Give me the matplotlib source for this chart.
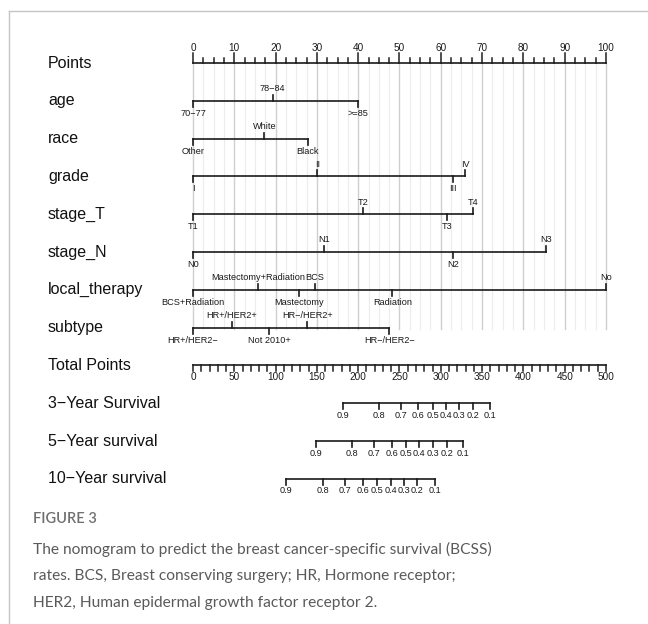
import matplotlib
matplotlib.use("Agg")
import matplotlib.pyplot as plt
from matplotlib.lines import Line2D

# ---- nomogram data (points scale 0-100) ----
points_ticks = [0, 10, 20, 30, 40, 50, 60, 70, 80, 90, 100]

age_levels = ["70\u221277", "78\u221284", ">=85"]
age_points = [0, 19.3, 40.0]

race_levels = ["Other", "White", "Black"]
race_points = [0, 17.3, 27.8]

grade_levels = ["I", "II", "III", "IV"]
grade_points = [0, 30.1, 63.0, 65.9]

stage_T_levels = ["T1", "T2", "T3", "T4"]
stage_T_points = [0, 41.2, 61.6, 67.7]

stage_N_levels = ["N0", "N1", "N2", "N3"]
stage_N_points = [0, 31.7, 63.0, 85.5]

therapy_levels = ["BCS+Radiation", "Mastectomy+Radiation", "Mastectomy",
                  "BCS", "Radiation", "No"]
therapy_points = [0, 15.8, 25.7, 29.5, 48.3, 100.0]

subtype_levels = ["HR+/HER2\u2212", "HR+/HER2+", "Not 2010+",
                  "HR\u2212/HER2+", "HR\u2212/HER2\u2212"]
subtype_points = [0, 9.4, 18.5, 27.7, 47.5]

total_ticks = [0, 50, 100, 150, 200, 250, 300, 350, 400, 450, 500]

surv_probs = ["0.9", "0.8", "0.7", "0.6", "0.5", "0.4", "0.3", "0.2", "0.1"]
surv3_total = [181, 225, 251.5, 272.5, 290, 306, 322, 339, 360]
surv5_total = [149, 192, 219, 240.5, 258, 274, 290, 307, 327]
surv10_total = [112.5, 157, 184, 205.5, 222.5, 239.5, 255.5, 271.5, 293]

variables = [
    ("age", age_levels, age_points),
    ("race", race_levels, race_points),
    ("grade", grade_levels, grade_points),
    ("stage_T", stage_T_levels, stage_T_points),
    ("stage_N", stage_N_levels, stage_N_points),
    ("local_therapy", therapy_levels, therapy_points),
    ("subtype", subtype_levels, subtype_points),
]
survivals = [
    ("3\u2212Year Survival", surv3_total),
    ("5\u2212Year survival", surv5_total),
    ("10\u2212Year survival", surv10_total),
]

# ---- figure setup: x in points, y in pixel rows ----
W, H = 648, 624
fig = plt.figure(figsize=(W / 100, H / 100), dpi=100)
ax = fig.add_axes([0, 0, 1, 1])
px0, px100 = 193, 606
scale = (px100 - px0) / 100.0
ax.set_xlim(-px0 / scale, (W - px0) / scale)
ax.set_ylim(H, 0)
ax.axis("off")

FONT = "Liberation Sans"
LC = "#1a1a1a"
LW = 1.2
row_fs = 11.5
tick_fs = 6.6

row_y = [63 + 37.8 * i for i in range(12)]
label_x = (48 - px0) / scale

# frame around the figure panel
ax.add_line(Line2D([(9 - px0) / scale] * 2, [11, H], color="#c4c4c4", lw=1.0))
ax.add_line(Line2D([(9 - px0) / scale, (W - px0) / scale], [11, 11],
                   color="#c4c4c4", lw=1.0))

# vertical reference grid
grid_bottom = row_y[7] + 1
for k in range(41):
    v = k * 2.5
    major = (k % 4 == 0)
    ax.plot([v, v], [row_y[0], grid_bottom],
            color="#cfcfcf" if major else "#ececec",
            lw=1.0 if major else 0.8, zorder=0)

def row_label(y, text):
    ax.text(label_x, y, text, fontsize=row_fs, family=FONT,
            ha="left", va="center", color="#111111")

# Points axis
y = row_y[0]
row_label(y, "Points")
ax.plot([0, 100], [y, y], color=LC, lw=LW)
for k in range(41):
    v = k * 2.5
    top = y - 10 if k % 4 == 0 else y - 5
    ax.plot([v, v], [y, top], color=LC, lw=LW * 0.9)
for v in points_ticks:
    ax.text(v, y - 15, str(v), fontsize=7.2, family=FONT,
            ha="center", va="center", color=LC)

# categorical variables: labels alternate below / above the line
for i, (name, levels, pts) in enumerate(variables):
    y = row_y[i + 1]
    row_label(y, name)
    ax.plot([min(pts), max(pts)], [y, y], color=LC, lw=LW)
    for j, (lab, p) in enumerate(zip(levels, pts)):
        up = (j % 2 == 1)
        end = y - 6 if up else y + 6
        ax.plot([p, p], [y, end], color=LC, lw=LW)
        ty = y - 12 if up else y + 12.5
        ax.text(p, ty, lab, fontsize=tick_fs, family=FONT,
                ha="center", va="center", color=LC)

# Total points axis (0-500 mapped onto 0-100 points)
y = row_y[8]
row_label(y, "Total Points")
ax.plot([total_ticks[0] / 5, total_ticks[-1] / 5], [y, y], color=LC, lw=LW)
for t in range(0, 501, 10):
    ax.plot([t / 5, t / 5], [y, y + 6], color=LC, lw=LW * 0.9)
for t in total_ticks:
    ax.text(t / 5, y + 12, str(t), fontsize=7.2, family=FONT,
            ha="center", va="center", color=LC)

# survival probability axes
for i, (name, tot) in enumerate(survivals):
    y = row_y[9 + i]
    row_label(y, name)
    xs = [t / 5 for t in tot]
    ax.plot([xs[0], xs[-1]], [y, y], color=LC, lw=LW)
    for lab, xv in zip(surv_probs, xs):
        ax.plot([xv, xv], [y, y + 6], color=LC, lw=LW)
        ax.text(xv, y + 12, lab, fontsize=tick_fs, family=FONT,
                ha="center", va="center", color=LC)

# caption
cap_x = 33 / W
fig.text(cap_x, 1 - 519 / H, "FIGURE 3", fontsize=10.5, family="Lato",
         weight="semibold", color="#707070", ha="left", va="center")
caption = [
    "The nomogram to predict the breast cancer-specific survival (BCSS)",
    "rates. BCS, Breast conserving surgery; HR, Hormone receptor;",
    "HER2, Human epidermal growth factor receptor 2.",
]
for k, line in enumerate(caption):
    fig.text(cap_x, 1 - (549 + 27 * k) / H, line, fontsize=11.2,
             family="Lato", color="#5a5a5a", ha="left", va="center")

fig.savefig("out.png", dpi=100, facecolor="white")
